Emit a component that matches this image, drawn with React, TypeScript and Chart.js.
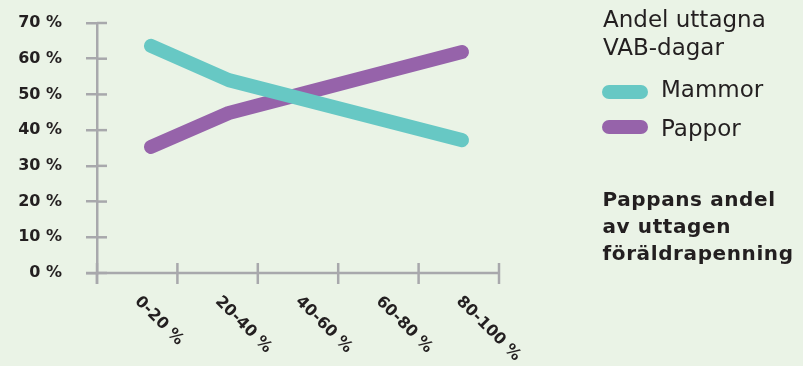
import React, { useEffect, useRef } from 'react';
import { Chart, registerables } from 'chart.js';

Chart.register(...registerables);

// ---- data ----
const categories = ['0-20 %', '20-40 %', '40-60 %', '60-80 %', '80-100 %'];
const mammor = [63.6, 54.0, 48.4, 42.8, 37.2];
const pappor = [35.3, 44.8, 50.5, 56.2, 61.9];
const yMax = 70;
const yStep = 10;
const legendTitle = ['Andel uttagna', 'VAB-dagar'];
const seriesNames = ['Mammor', 'Pappor'];
const axisTitle = ['Pappans andel', 'av uttagen', 'föräldrapenning'];

// ---- styles ----
const BG = '#eaf3e6';
const TEAL = '#67c8c4';
const PURPLE = '#9663aa';
const AXIS = '#a8a8ac';
const INK = '#231f20';
const FONT = '"DejaVu Sans", sans-serif';

const axisDecor = {
  id: 'axisDecor',
  afterDraw(chart: any) {
    const { ctx, chartArea: a, scales } = chart;
    const y = scales.y;
    const line = (x1: number, y1: number, x2: number, y2: number) => {
      ctx.beginPath();
      ctx.moveTo(x1, y1);
      ctx.lineTo(x2, y2);
      ctx.stroke();
    };
    ctx.save();
    ctx.strokeStyle = AXIS;
    ctx.lineWidth = 2.5;
    ctx.lineCap = 'butt';
    y.ticks.forEach((t: any) => {
      const py = y.getPixelForValue(t.value);
      line(a.left, py, a.left + 10, py);
    });
    line(a.left, a.bottom, a.left, a.bottom + 11);
    line(a.left - 11, a.bottom, a.right, a.bottom);
    const n = categories.length;
    const w = (a.right - a.left) / n;
    for (let k = 0; k <= n; k++) {
      const x = a.left + k * w;
      line(x, a.bottom - 10, x, a.bottom + 11);
    }
    ctx.fillStyle = INK;
    ctx.font = 'bold 16px ' + FONT;
    ctx.textAlign = 'left';
    ctx.textBaseline = 'middle';
    categories.forEach((c, k) => {
      const x = a.left + (k + 0.5) * w;
      ctx.save();
      ctx.translate(x, a.bottom + 26);
      ctx.rotate(Math.PI / 4);
      ctx.fillText(c, 0, 0);
      ctx.restore();
    });
    ctx.restore();
  },
};

export default function App() {
  const ref = useRef<HTMLCanvasElement>(null);

  useEffect(() => {
    if (!ref.current) return;
    const chart = new Chart(ref.current, {
      type: 'line',
      data: {
        datasets: [
          {
            label: seriesNames[0],
            data: mammor.map((v, i) => ({ x: i, y: v })),
            borderColor: TEAL,
            borderWidth: 14,
            borderCapStyle: 'round',
            borderJoinStyle: 'round',
            pointRadius: 0,
            tension: 0,
          },
          {
            label: seriesNames[1],
            data: pappor.map((v, i) => ({ x: i, y: v })),
            borderColor: PURPLE,
            borderWidth: 14,
            borderCapStyle: 'round',
            borderJoinStyle: 'round',
            pointRadius: 0,
            tension: 0,
          },
        ],
      },
      options: {
        responsive: false,
        maintainAspectRatio: false,
        animation: false,
        devicePixelRatio: 1,
        layout: { padding: { left: 0, right: 304, top: 23, bottom: 93 } },
        plugins: { legend: { display: false }, tooltip: { enabled: false } },
        scales: {
          x: {
            type: 'linear',
            min: -0.6945,
            max: 4.476,
            display: false,
          },
          y: {
            min: 0,
            max: yMax,
            afterFit: (s: any) => {
              s.width = 97;
              s.paddingTop = 0;
              s.paddingBottom = 0;
            },
            ticks: {
              stepSize: yStep,
              callback: (v: any) => `${v} %`,
              font: { family: FONT, size: 16, weight: 'bold' },
              color: INK,
              padding: 24,
            },
            grid: {
              drawOnChartArea: false,
              drawTicks: true,
              tickLength: 11,
              color: AXIS,
              lineWidth: 2.5,
            },
            border: { display: true, color: AXIS, width: 2.5 },
          },
        },
      },
      plugins: [axisDecor],
    } as any);
    return () => chart.destroy();
  }, []);

  const regular: React.CSSProperties = {
    position: 'absolute',
    fontFamily: FONT,
    fontSize: 23,
    color: INK,
    whiteSpace: 'nowrap',
  };

  return (
    <div
      style={{
        position: 'fixed',
        left: 0,
        top: 0,
        width: 803,
        height: 366,
        background: BG,
        overflow: 'hidden',
      }}
    >
      <canvas ref={ref} width={803} height={366} style={{ display: 'block', position: 'absolute', left: 0, top: 0 }} />
      <div style={{ ...regular, left: 603, top: 4.75, lineHeight: '28px' }}>
        {legendTitle.map((t) => (
          <div key={t}>{t}</div>
        ))}
      </div>
      <div style={{ position: 'absolute', left: 602, top: 85, width: 46, height: 13.5, borderRadius: 7, background: TEAL }} />
      <div style={{ position: 'absolute', left: 602, top: 120, width: 46, height: 13.5, borderRadius: 7, background: PURPLE }} />
      <div style={{ ...regular, left: 661, top: 78.2, lineHeight: '23px' }}>{seriesNames[0]}</div>
      <div style={{ ...regular, left: 661, top: 117.2, lineHeight: '23px' }}>{seriesNames[1]}</div>
      <div
        style={{
          ...regular,
          fontSize: 20,
          fontWeight: 'bold',
          letterSpacing: '0.6px',
          left: 602.5,
          top: 186.4,
          lineHeight: '26.7px',
        }}
      >
        {axisTitle.map((t) => (
          <div key={t}>{t}</div>
        ))}
      </div>
    </div>
  );
}
